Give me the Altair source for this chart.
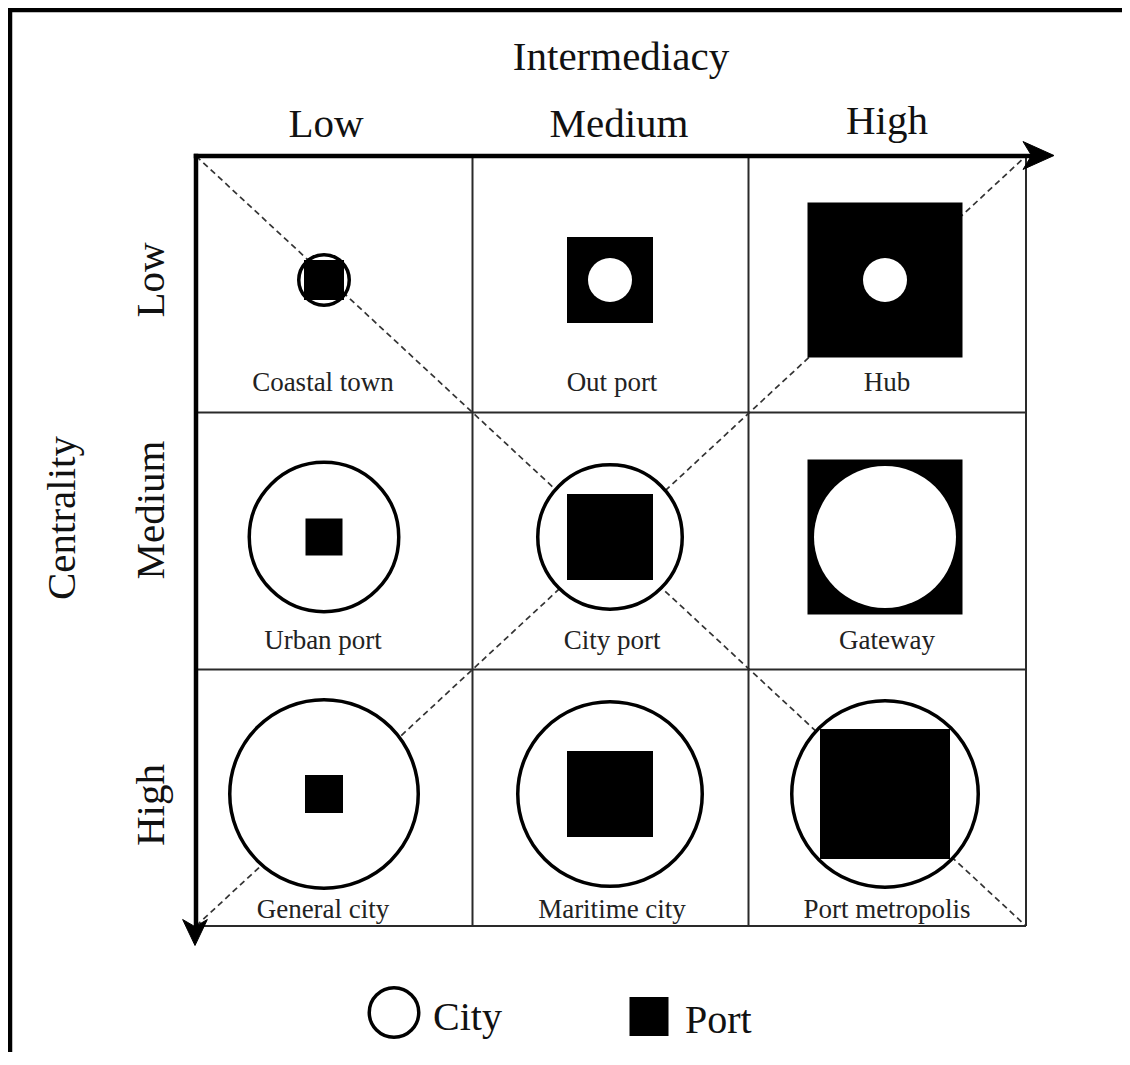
import altair as alt
import pandas as pd

# ---------------- data ----------------
intermediacy_levels = ["Low", "Medium", "High"]          # columns
centrality_levels = ["Low", "Medium", "High"]            # rows
cell_labels = [
    "Coastal town", "Out port", "Hub",
    "Urban port", "City port", "Gateway",
    "General city", "Maritime city", "Port metropolis",
]
# outer diameter of the city circle, px
city_diameter = [54, 44, 44, 153, 148, 142, 192, 188, 190]
# side of the port square, px
port_side = [40, 86, 155, 37, 86, 155, 38, 86, 130]
legend_labels = ["City", "Port"]
axis_titles = ["Intermediacy", "Centrality"]

# ---------------- layout (page pixels) ----------------
W, H = 1114, 1044
X0, Y0 = 8, 8
col_edges = [196, 472.5, 748.5, 1026]
row_edges = [156, 412.5, 669.5, 926]
col_center = [324, 610, 885]
row_center = [280, 537, 794]
label_x = [323, 612, 887]
label_y = [391, 649, 918]
FONT = "Liberation Serif"
CITY_STROKE = 3.5

xs = alt.Scale(domain=[X0, X0 + W], nice=False, zero=False)
ys = alt.Scale(domain=[Y0, Y0 + H], nice=False, zero=False, reverse=True)


def X(f="x"):
    return alt.X(f"{f}:Q", scale=xs, axis=None)


def Y(f="y"):
    return alt.Y(f"{f}:Q", scale=ys, axis=None)


# cells table
rows = []
for i, cen in enumerate(centrality_levels):
    for j, inter in enumerate(intermediacy_levels):
        k = i * 3 + j
        rows.append(dict(
            centrality=cen, intermediacy=inter, name=cell_labels[k],
            x=col_center[j], y=row_center[i], lx=label_x[j], ly=label_y[i],
            city=city_diameter[k], port=port_side[k],
            inside=city_diameter[k] < port_side[k],
        ))
cells = pd.DataFrame(rows)
cells["city_outline_size"] = (cells["city"] - CITY_STROKE) ** 2
cells["city_fill_size"] = cells["city"] ** 2
cells["port_size"] = cells["port"] ** 2

# ---------------- lines ----------------
frame = pd.DataFrame([
    dict(x=X0, y=10, x2=X0 + W, y2=10),
    dict(x=10, y=Y0, x2=10, y2=Y0 + H),
])
diag = pd.DataFrame([
    dict(x=col_edges[0], y=row_edges[0], x2=col_edges[3], y2=row_edges[3]),
    dict(x=col_edges[0], y=row_edges[3], x2=col_edges[3], y2=row_edges[0]),
])
grid = pd.DataFrame(
    [dict(x=cx, y=row_edges[0], x2=cx, y2=row_edges[3]) for cx in col_edges[1:]]
    + [dict(x=col_edges[0], y=ry, x2=col_edges[3], y2=ry) for ry in row_edges[1:]]
)
axes_lines = pd.DataFrame([
    dict(x=col_edges[0], y=row_edges[0], x2=1036, y2=row_edges[0]),
    dict(x=col_edges[0], y=row_edges[0], x2=col_edges[0], y2=932),
])


def rule_layer(df, width, color="black", dash=None, cap="butt"):
    kw = dict(strokeWidth=width, color=color, strokeCap=cap)
    if dash:
        kw["strokeDash"] = dash
    return alt.Chart(df).mark_rule(**kw).encode(x=X(), y=Y(), x2="x2:Q", y2="y2:Q")


frame_l = rule_layer(frame, 4.5)
diag_l = rule_layer(diag, 1.7, color="#333333", dash=[6, 4])
grid_l = rule_layer(grid, 2, color="#2a2a2a")
axes_l = rule_layer(axes_lines, 4.5, cap="square")

arrow_right = alt.Chart(pd.DataFrame([dict(x=1038.5, y=155.5)])).mark_point(
    shape="M1,0L-1,-0.9L-0.45,0L-1,0.9Z", filled=True, fill="black",
    stroke="black", strokeWidth=1, opacity=1, size=31 ** 2,
).encode(x=X(), y=Y())
arrow_down = alt.Chart(pd.DataFrame([dict(x=195, y=932.5)])).mark_point(
    shape="M0,1L-0.95,-1L0,-0.45L0.95,-1Z", filled=True, fill="black",
    stroke="black", strokeWidth=1, opacity=1, size=26 ** 2,
).encode(x=X(), y=Y())

# ---------------- symbols ----------------
city_out = alt.Chart(cells).transform_filter("!datum.inside").mark_point(
    shape="circle", filled=True, fill="white", stroke="black",
    strokeWidth=CITY_STROKE, opacity=1,
).encode(x=X(), y=Y(), size=alt.Size("city_outline_size:Q", scale=None, legend=None))

ports = alt.Chart(cells).mark_point(
    shape="square", filled=True, fill="black", opacity=1, strokeWidth=0,
).encode(x=X(), y=Y(), size=alt.Size("port_size:Q", scale=None, legend=None))

city_in = alt.Chart(cells).transform_filter("datum.inside").mark_point(
    shape="circle", filled=True, fill="white", opacity=1, strokeWidth=0,
).encode(x=X(), y=Y(), size=alt.Size("city_fill_size:Q", scale=None, legend=None))

# ---------------- texts ----------------
cell_text = alt.Chart(cells).mark_text(
    font=FONT, fontSize=27, color="#222222", align="center", baseline="alphabetic",
).encode(x=X("lx"), y=Y("ly"), text="name:N")

col_head = pd.DataFrame(dict(
    text=intermediacy_levels, x=[326, 619, 887], y=[137, 137, 134]))
col_head_l = alt.Chart(col_head).mark_text(
    font=FONT, fontSize=41, color="#111111", align="center", baseline="alphabetic",
).encode(x=X(), y=Y(), text="text:N")

row_head = pd.DataFrame(dict(text=centrality_levels, x=[164, 164, 164],
                             y=[280, 510, 805]))
row_head_l = alt.Chart(row_head).mark_text(
    font=FONT, fontSize=41, color="#111111", align="center", baseline="alphabetic",
    angle=270,
).encode(x=X(), y=Y(), text="text:N")

title_top = alt.Chart(pd.DataFrame([dict(text=axis_titles[0], x=621, y=70)])).mark_text(
    font=FONT, fontSize=41, color="#111111", align="center", baseline="alphabetic",
).encode(x=X(), y=Y(), text="text:N")
title_left = alt.Chart(pd.DataFrame([dict(text=axis_titles[1], x=75, y=518)])).mark_text(
    font=FONT, fontSize=41, color="#111111", align="center", baseline="alphabetic",
    angle=270,
).encode(x=X(), y=Y(), text="text:N")

# ---------------- legend ----------------
leg_sym = pd.DataFrame(dict(label=legend_labels, x=[394, 649], y=[1012.5, 1016.5]))
leg_city = alt.Chart(leg_sym).transform_filter("datum.label == 'City'").mark_point(
    shape="circle", filled=True, fill="white", stroke="black",
    strokeWidth=CITY_STROKE, opacity=1, size=(53 - CITY_STROKE) ** 2,
).encode(x=X(), y=Y())
leg_port = alt.Chart(leg_sym).transform_filter("datum.label == 'Port'").mark_point(
    shape="square", filled=True, fill="black", opacity=1, strokeWidth=0, size=39 ** 2,
).encode(x=X(), y=Y())
leg_text = pd.DataFrame(dict(text=legend_labels, x=[433, 685], y=[1030, 1033]))
leg_text_l = alt.Chart(leg_text).mark_text(
    font=FONT, fontSize=40, color="#111111", align="left", baseline="alphabetic",
).encode(x=X(), y=Y(), text="text:N")

chart = alt.layer(
    frame_l, diag_l, grid_l, city_out, ports, city_in, axes_l, arrow_right, arrow_down,
    cell_text, col_head_l, row_head_l, title_top, title_left,
    leg_city, leg_port, leg_text_l,
).properties(
    width=W, height=H, autosize=alt.AutoSizeParams(type="none"), padding=0,
).configure_view(stroke=None)

chart.save("out.html", embed_options={"renderer": "svg", "actions": False})
